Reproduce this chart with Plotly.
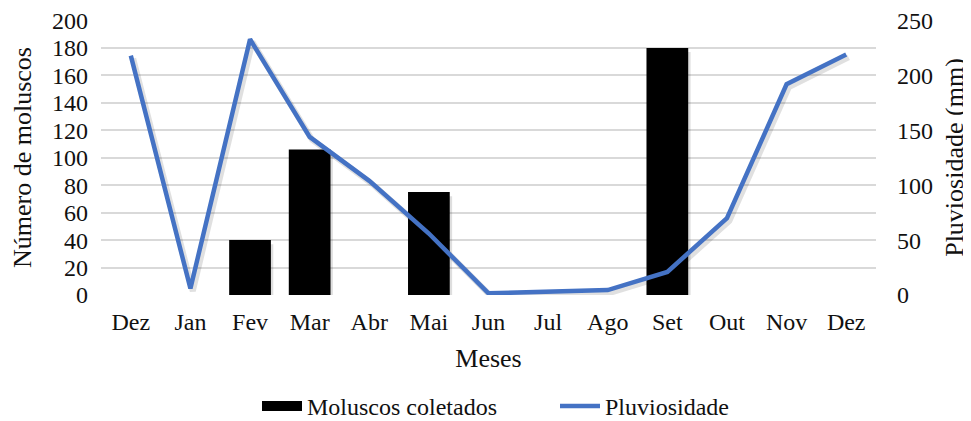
import plotly.graph_objects as go

months = ["Dez", "Jan", "Fev", "Mar", "Abr", "Mai", "Jun", "Jul", "Ago", "Set", "Out", "Nov", "Dez"]
moluscos = [0, 0, 40, 106, 0, 75, 0, 0, 0, 180, 0, 0, 0]
pluviosidade = [218, 6, 233, 144, 104, 56, 1.5, 2.5, 4.5, 21, 70, 192, 219]

xpos = list(range(len(months)))
FONT = "Liberation Serif, Times New Roman, serif"
TXT = "#111111"

fig = go.Figure()
# soft drop shadow of the bars (derived from the data)
fig.add_trace(go.Bar(
    x=xpos, y=[v - 1.5 if v else 0 for v in moluscos], base=-1.5,
    marker=dict(color="rgba(0,0,0,0.13)", line=dict(width=0)),
    width=0.7, offset=-0.31, yaxis="y", showlegend=False, hoverinfo="skip",
))
fig.add_trace(go.Bar(
    x=xpos, y=moluscos, name="Moluscos coletados",
    marker=dict(color="black", line=dict(width=0)), width=0.7, offset=-0.35,
    yaxis="y", showlegend=False,
))
# legend entry for the bars drawn as a wide black block (like the reference)
fig.add_trace(go.Scatter(
    x=[None], y=[None], name="Moluscos coletados", mode="lines",
    line=dict(color="black", width=15), yaxis="y", legendrank=1,
))
# soft drop shadow of the line (derived from the data)
fig.add_trace(go.Scatter(
    x=[v + 0.04 for v in xpos], y=[v - 2.5 for v in pluviosidade], mode="lines",
    line=dict(color="rgba(0,0,0,0.12)", width=6), yaxis="y2",
    showlegend=False, hoverinfo="skip",
))
fig.add_trace(go.Scatter(
    x=xpos, y=pluviosidade, name="Pluviosidade", mode="lines",
    line=dict(color="#4472C4", width=4.5), yaxis="y2", legendrank=2,
))

fig.update_layout(
    width=963, height=421,
    margin=dict(l=93, r=95, t=12, b=134),
    paper_bgcolor="white", plot_bgcolor="white",
    font=dict(family=FONT, size=24, color=TXT),
    showlegend=True, barmode="overlay",
    legend=dict(orientation="h", xref="paper", x=(257 - 101) / 775, xanchor="left",
                yref="container", y=0, yanchor="bottom",
                font=dict(size=24), entrywidth=243, itemwidth=40),
    xaxis=dict(
        tickmode="array", tickvals=xpos, ticktext=months,
        range=[-0.5, 12.5], showgrid=False, zeroline=False, showline=False,
        ticks="", ticklabelstandoff=10, automargin=False,
        title=dict(text="Meses", font=dict(size=26), standoff=14),
    ),
    yaxis=dict(
        range=[0, 200.4], tickvals=list(range(0, 201, 20)), showgrid=True,
        gridcolor="#d9d9d9", gridwidth=1.5, ticklabeloverflow="allow",
        zeroline=False, showline=False, ticks="", ticklabelstandoff=12, automargin=False,
        title=dict(text="Número de moluscos", font=dict(size=26), standoff=16),
    ),
    yaxis2=dict(
        range=[0, 250.5], tickvals=list(range(0, 251, 50)), overlaying="y", side="right",
        showgrid=False, zeroline=False, showline=False, ticks="", ticklabelstandoff=20,
        automargin=False, ticklabeloverflow="allow",
        title=dict(text="Pluviosidade (mm)", font=dict(size=26), standoff=12),
    ),
)

fig.write_html("out.html")
